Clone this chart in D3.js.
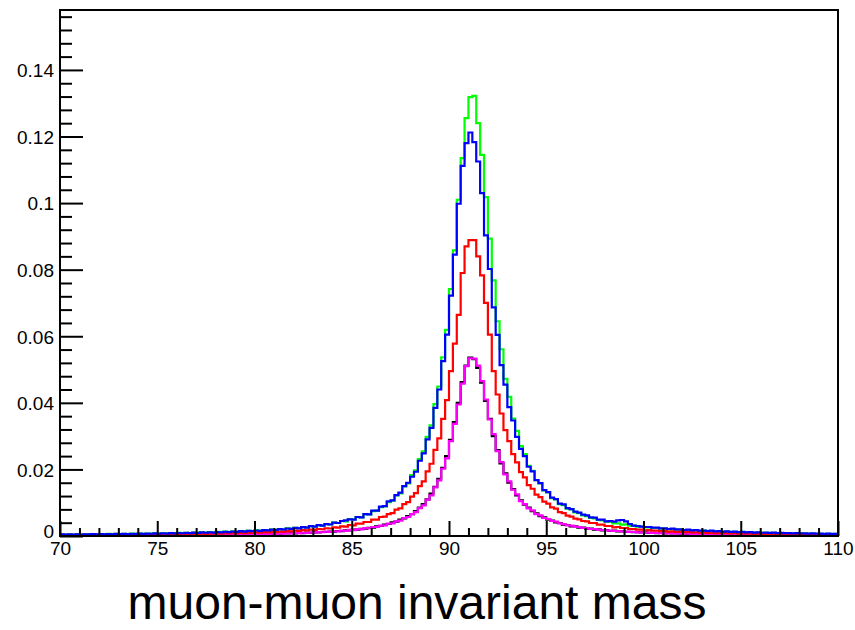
<!DOCTYPE html>
<html><head><meta charset="utf-8">
<script src="https://cdn.jsdelivr.net/npm/d3@7"></script>
<style>body{margin:0;background:#fff}</style>
</head><body>
<svg id="c" width="855" height="630"></svg>
<script>
const xMin = 70, xMax = 110, nBins = 200;
const xTicks = [70, 75, 80, 85, 90, 95, 100, 105, 110];
const xTickLabels = ["70", "75", "80", "85", "90", "95", "100", "105", "110"];
const yTicks = [0, 0.02, 0.04, 0.06, 0.08, 0.1, 0.12, 0.14];
const yTickLabels = ["0", "0.02", "0.04", "0.06", "0.08", "0.1", "0.12", "0.14"];
const xTitle = "muon-muon invariant mass";

const green = [
0.00052,0.00041,0.00049,0.00044,0.00055,0.00046,0.00053,0.00047,0.00058,0.0005,
0.00057,0.00052,0.00061,0.00055,0.00063,0.00058,0.00066,0.0006,0.00069,0.00063,
0.00072,0.00066,0.00075,0.0007,0.00079,0.00073,0.00083,0.00077,0.00088,0.0008,
0.00092,0.00085,0.00097,0.0009,0.00102,0.00095,0.00108,0.001,0.00114,0.00106,
0.00121,0.00112,0.00129,0.0012,0.00136,0.00128,0.00146,0.00137,0.00156,0.00147,
0.00167,0.00158,0.00179,0.0017,0.00193,0.00184,0.00209,0.00199,0.00227,0.00216,
0.00247,0.00236,0.00269,0.00258,0.00296,0.00284,0.00325,0.00314,0.0036,0.00349,
0.004,0.0039,0.0045,0.0044,0.0051,0.005,0.0057,0.0056,0.0066,0.0065,
0.0075,0.0076,0.0087,0.0089,0.0102,0.0106,0.0122,0.0128,0.0149,0.0158,
0.0183,0.0197,0.0231,0.0254,0.0298,0.0332,0.0396,0.0449,0.0537,0.0619,
0.0742,0.0858,0.101,0.1135,0.1255,0.1318,0.1322,0.124,0.1145,0.1018,
0.0893,0.0768,0.0645,0.0561,0.0472,0.0418,0.0353,0.0316,0.027,0.0246,
0.0211,0.0196,0.0168,0.0158,0.0137,0.0131,0.0114,0.011,0.0096,0.0093,
0.0082,0.008,0.0071,0.0069,0.0062,0.006,0.0054,0.0053,0.0048,0.0047,
0.0043,0.0042,0.0038,0.0038,0.0034,0.0035,0.0031,0.0031,0.0028,0.0029,
0.0026,0.0026,0.0024,0.0024,0.0022,0.0022,0.002,0.0021,0.0019,0.0019,
0.0017,0.0018,0.0016,0.0017,0.0015,0.0016,0.0014,0.0015,0.0013,0.0014,
0.0012,0.0013,0.00116,0.00122,0.00109,0.00116,0.00103,0.00109,0.00097,0.00103,
0.00092,0.00097,0.00087,0.00092,0.00082,0.00087,0.00078,0.00082,0.00074,0.00078,
0.0007,0.00074,0.00067,0.00071,0.00063,0.00067,0.0006,0.00064,0.00057,0.00062];

const blue = [
0.00047,0.00041,0.00049,0.00043,0.00051,0.00045,0.00053,0.00047,0.00055,0.00049,
0.00057,0.00051,0.0006,0.00053,0.00062,0.00056,0.00065,0.00058,0.00068,0.00061,
0.00071,0.00064,0.00074,0.00067,0.00078,0.00071,0.00082,0.00074,0.00086,0.00078,
0.0009,0.00082,0.00095,0.00087,0.001,0.00092,0.00106,0.00097,0.00112,0.00104,
0.00119,0.0011,0.00127,0.00117,0.00135,0.00125,0.00144,0.00134,0.00155,0.00144,
0.00165,0.00154,0.00178,0.00167,0.00192,0.0018,0.00208,0.00196,0.00225,0.00213,
0.00245,0.00232,0.00268,0.00254,0.00294,0.0028,0.00324,0.0031,0.00359,0.00345,
0.004,0.0039,0.0045,0.0047,0.005,0.0049,0.0057,0.0056,0.0066,0.0065,
0.0076,0.0076,0.0088,0.009,0.0104,0.0107,0.0123,0.013,0.015,0.016,
0.0178,0.0193,0.0226,0.0248,0.029,0.0325,0.0385,0.044,0.0525,0.0605,
0.0722,0.0845,0.0998,0.1112,0.118,0.1212,0.1183,0.1125,0.103,0.0903,
0.0802,0.0687,0.0604,0.0513,0.0455,0.0387,0.0347,0.0298,0.0262,0.024,
0.0208,0.0194,0.0168,0.0159,0.0138,0.0132,0.0115,0.0111,0.0097,0.0095,
0.0084,0.0081,0.0073,0.007,0.0064,0.0062,0.0056,0.0055,0.0049,0.0049,
0.0044,0.0045,0.0043,0.0047,0.0048,0.0044,0.0036,0.0031,0.003,0.0028,
0.0027,0.0027,0.0025,0.0025,0.0023,0.0023,0.0021,0.0022,0.002,0.002,
0.0018,0.0019,0.0017,0.0018,0.0016,0.0016,0.0015,0.0016,0.0014,0.0015,
0.0013,0.0014,0.00123,0.00129,0.00116,0.00122,0.0011,0.00116,0.00104,0.0011,
0.00098,0.00103,0.00093,0.00099,0.00088,0.00094,0.00084,0.00089,0.0008,0.00085,
0.00076,0.00081,0.00073,0.00078,0.0007,0.00074,0.00066,0.00071,0.00064,0.00068];

const red = [
0.00031,0.00027,0.00032,0.00028,0.00033,0.0003,0.00034,0.00031,0.00036,0.00032,
0.00037,0.00034,0.00039,0.00035,0.0004,0.00037,0.00042,0.00039,0.00044,0.00041,
0.00046,0.00043,0.00048,0.00045,0.0005,0.00047,0.00053,0.0005,0.00056,0.00052,
0.00059,0.00055,0.00062,0.00058,0.00065,0.00061,0.00069,0.00065,0.00073,0.00069,
0.00077,0.00073,0.00083,0.00078,0.00088,0.00083,0.00094,0.00089,0.00101,0.00095,
0.00108,0.00102,0.00116,0.0011,0.00125,0.00119,0.00135,0.00129,0.00146,0.0014,
0.0016,0.00152,0.00174,0.00167,0.00191,0.00184,0.0021,0.00203,0.00233,0.00226,
0.0026,0.0025,0.0029,0.0028,0.0033,0.0032,0.0037,0.0037,0.0042,0.0042,
0.0049,0.0049,0.0057,0.0058,0.0066,0.0069,0.0079,0.0083,0.0096,0.0102,
0.0118,0.0129,0.015,0.0164,0.0194,0.0217,0.0259,0.0293,0.0352,0.0408,
0.0495,0.0578,0.0664,0.079,0.087,0.0889,0.0889,0.084,0.0783,0.07,
0.0605,0.0495,0.0425,0.0368,0.0318,0.0285,0.0246,0.0221,0.0192,0.0176,
0.0153,0.0142,0.0124,0.0117,0.0103,0.0097,0.0086,0.0082,0.0072,0.0069,
0.0061,0.0058,0.0052,0.005,0.0045,0.0044,0.0039,0.0039,0.0034,0.0034,
0.003,0.003,0.0026,0.0027,0.0024,0.0024,0.0021,0.0021,0.0019,0.0019,
0.0017,0.0018,0.0016,0.0016,0.00145,0.0015,0.00134,0.0014,0.00124,0.0013,
0.00115,0.0012,0.00107,0.00112,0.001,0.00105,0.00093,0.00098,0.00088,0.00092,
0.00082,0.00087,0.00078,0.00082,0.00073,0.00077,0.00069,0.00073,0.00065,0.00069,
0.00062,0.00066,0.00058,0.00063,0.00056,0.00059,0.00053,0.00056,0.00051,0.00053,
0.00048,0.00051,0.00046,0.00049,0.00044,0.00047,0.00042,0.00045,0.0004,0.00043];

const magenta = [
0.00017,0.00015,0.00018,0.00016,0.00018,0.00017,0.00019,0.00017,0.0002,0.00018,
0.0002,0.00019,0.00021,0.0002,0.00022,0.00021,0.00023,0.00022,0.00024,0.00023,
0.00025,0.00024,0.00026,0.00025,0.00028,0.00026,0.00029,0.00028,0.00031,0.00029,
0.00032,0.0003,0.00034,0.00032,0.00036,0.00034,0.00038,0.00036,0.00041,0.00038,
0.00043,0.0004,0.00046,0.00043,0.00049,0.00046,0.00052,0.00049,0.00056,0.00052,
0.0006,0.00056,0.00064,0.00061,0.00069,0.00066,0.00075,0.00071,0.00082,0.00077,
0.00088,0.00084,0.00097,0.00092,0.00106,0.00101,0.00116,0.00112,0.00129,0.00124,
0.00143,0.00139,0.00161,0.00156,0.00181,0.00177,0.00205,0.00202,0.00234,0.00233,
0.0027,0.0027,0.0031,0.0032,0.0037,0.0038,0.0044,0.0046,0.0054,0.0057,
0.0066,0.0072,0.0084,0.0092,0.0109,0.0122,0.0146,0.0167,0.0202,0.0233,
0.0285,0.0337,0.0395,0.0458,0.051,0.0534,0.0533,0.0512,0.0465,0.041,
0.035,0.0306,0.0255,0.0222,0.0185,0.0164,0.0139,0.0125,0.0105,0.0096,
0.0083,0.0077,0.0066,0.0062,0.0054,0.0051,0.0045,0.0043,0.0038,0.0036,
0.0032,0.0031,0.0028,0.0027,0.0024,0.0024,0.0021,0.0021,0.0019,0.0018,
0.0017,0.0016,0.0015,0.0015,0.00135,0.00134,0.00122,0.00122,0.00111,0.00112,
0.00101,0.00102,0.00092,0.00094,0.00085,0.00087,0.00078,0.00081,0.00072,0.00075,
0.00067,0.0007,0.00062,0.00065,0.00059,0.00061,0.00055,0.00057,0.00051,0.00054,
0.00048,0.0005,0.00045,0.00048,0.00042,0.00045,0.0004,0.00043,0.00038,0.00041,
0.00036,0.00039,0.00034,0.00037,0.00033,0.00035,0.00031,0.00033,0.00029,0.00031,
0.00028,0.0003,0.00027,0.00028,0.00026,0.00027,0.00024,0.00026,0.00023,0.00025];

const black = [
0.00016,0.00017,0.00016,0.00018,0.00017,0.00019,0.00018,0.00019,0.00018,0.0002,
0.00019,0.00021,0.0002,0.00022,0.00021,0.00023,0.00022,0.00024,0.00022,0.00025,
0.00023,0.00026,0.00024,0.00027,0.00026,0.00028,0.00027,0.0003,0.00028,0.00031,
0.0003,0.00033,0.00032,0.00035,0.00033,0.00037,0.00035,0.00039,0.00037,0.00041,
0.0004,0.00044,0.00042,0.00047,0.00045,0.0005,0.00048,0.00053,0.00051,0.00057,
0.00055,0.00061,0.00059,0.00066,0.00064,0.00071,0.00069,0.00077,0.00075,0.00084,
0.00081,0.00091,0.00089,0.00099,0.00098,0.0011,0.00108,0.0012,0.0012,0.00134,
0.00133,0.0015,0.00149,0.00168,0.00168,0.0019,0.0019,0.00217,0.00218,0.00248,
0.0025,0.0029,0.003,0.0034,0.0036,0.0041,0.0043,0.0049,0.0053,0.006,
0.0066,0.0075,0.0085,0.0096,0.011,0.0127,0.0148,0.0172,0.0205,0.024,
0.0289,0.0342,0.04,0.0462,0.0512,0.0536,0.0531,0.0505,0.0461,0.0406,
0.0352,0.03,0.0258,0.0218,0.0188,0.016,0.0141,0.0122,0.0107,0.0094,
0.0085,0.0075,0.0068,0.006,0.0056,0.0049,0.0046,0.0041,0.0039,0.0034,
0.0033,0.0029,0.0029,0.0025,0.0025,0.0022,0.0022,0.0019,0.002,0.0017,
0.0018,0.0015,0.0016,0.0014,0.00141,0.00127,0.00128,0.00116,0.00117,0.00106,
0.00107,0.00096,0.00098,0.00088,0.0009,0.00081,0.00083,0.00075,0.00077,0.00069,
0.00072,0.00064,0.00067,0.0006,0.00063,0.00056,0.00059,0.00052,0.00055,0.00049,
0.00052,0.00046,0.00049,0.00044,0.00046,0.00041,0.00044,0.00039,0.00042,0.00037,
0.0004,0.00035,0.00038,0.00033,0.00036,0.00031,0.00034,0.0003,0.00032,0.00028,
0.00031,0.00027,0.0003,0.00026,0.00028,0.00025,0.00027,0.00024,0.00026,0.00023];

const series = [
  {name: "black", values: black, color: "#000000"},
  {name: "magenta", values: magenta, color: "#ff00ff"},
  {name: "green", values: green, color: "#00ff00"},
  {name: "red", values: red, color: "#ff0000"},
  {name: "blue", values: blue, color: "#0000ff"}
];

const m = {left: 60, right: 838, top: 10, bottom: 536};
const svg = d3.select("#c");
const x = d3.scaleLinear().domain([xMin, xMax]).range([m.left, m.right]);
const y = d3.scaleLinear().domain([0, 0.158]).range([m.bottom, m.top]);
const bw = (xMax - xMin) / nBins;
const font = "'Liberation Sans', Arial, Helvetica, sans-serif";

svg.append("defs").append("clipPath").attr("id", "clip")
  .append("rect").attr("x", m.left).attr("y", m.top)
  .attr("width", m.right - m.left).attr("height", m.bottom - m.top);

const line = d3.line().x(d => x(d[0])).y(d => y(d[1])).curve(d3.curveStepAfter);
const gH = svg.append("g").attr("clip-path", "url(#clip)");
series.forEach(s => {
  const pts = s.values.map((v, i) => [xMin + i * bw, v]);
  pts.push([xMax, s.values[s.values.length - 1]]);
  gH.append("path").datum(pts).attr("d", line)
    .attr("fill", "none").attr("stroke", s.color)
    .attr("stroke-width", 2.2).attr("stroke-linejoin", "miter");
});

const xMinor = d3.range(xMin, xMax + 0.001, 1).filter(v => !xTicks.includes(v));
const yMinor = d3.range(0, 0.1581, 0.004).map(v => +v.toFixed(3)).filter(v => !yTicks.some(t => Math.abs(t - v) < 1e-6));

const xAxisMinor = d3.axisBottom(x).tickValues(xMinor).tickSize(-8).tickFormat("");
const xAxis = d3.axisBottom(x).tickValues(xTicks).tickSize(-15)
  .tickFormat((d, i) => xTickLabels[i]);
const yAxisMinor = d3.axisLeft(y).tickValues(yMinor).tickSize(-12).tickFormat("");
const yAxis = d3.axisLeft(y).tickValues(yTicks).tickSize(-23)
  .tickFormat((d, i) => yTickLabels[i]);

function styleAxis(g) {
  g.select(".domain").remove();
  g.selectAll(".tick line").attr("stroke", "#000").attr("stroke-width", 2);
  g.selectAll(".tick text").attr("fill", "#000").style("font-family", font).style("font-size", "19px");
}
svg.append("g").attr("transform", `translate(0,${m.bottom})`).call(xAxisMinor).call(styleAxis);
const gx = svg.append("g").attr("transform", `translate(0,${m.bottom})`).call(xAxis).call(styleAxis);
gx.selectAll(".tick text").attr("y", 6).attr("dy", "0.71em");
svg.append("g").attr("transform", `translate(${m.left},0)`).call(yAxisMinor).call(styleAxis);
const gy = svg.append("g").attr("transform", `translate(${m.left},0)`).call(yAxis).call(styleAxis);
gy.selectAll(".tick text").attr("x", -6).attr("dy", (d) => d === 0 ? "0.1em" : "0.36em");

svg.append("rect").attr("x", m.left).attr("y", m.top)
  .attr("width", m.right - m.left).attr("height", m.bottom - m.top)
  .attr("fill", "none").attr("stroke", "#000").attr("stroke-width", 2);

svg.append("text").attr("x", 417).attr("y", 619).attr("text-anchor", "middle")
  .style("font-family", font).style("font-size", "48px").attr("fill", "#000")
  .text(xTitle);
</script>
</body></html>
